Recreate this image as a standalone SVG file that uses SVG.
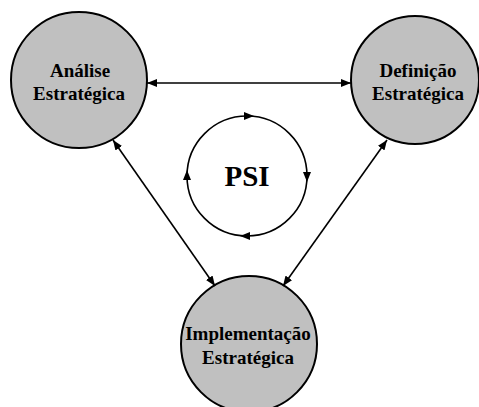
<svg xmlns="http://www.w3.org/2000/svg" width="479" height="407" viewBox="0 0 479 407">
<defs>
<marker id="ah" markerUnits="userSpaceOnUse" markerWidth="11" markerHeight="8" refX="10" refY="4" orient="auto-start-reverse" viewBox="0 0 11 8"><path d="M0,0 L10,4 L0,8 z" fill="#000"/></marker>
<style>
.node{fill:#c0c0c0;stroke:#000;stroke-width:2}
.lbl{font-weight:bold;font-size:19px;text-anchor:middle;fill:#000}
.con{stroke:#000;stroke-width:1.6;fill:none}
</style>
</defs>
<g font-family="Liberation Serif, serif">
<g id="analise">
<circle class="node" cx="79" cy="80" r="68"/>
<text class="lbl" x="80" y="77">Análise</text>
<text class="lbl" x="79" y="100">Estratégica</text>
</g>
<g id="definicao">
<circle class="node" cx="415" cy="80" r="64"/>
<text class="lbl" x="418" y="77">Definição</text>
<text class="lbl" x="418" y="100">Estratégica</text>
</g>
<g id="implementacao">
<circle class="node" cx="249" cy="344" r="68"/>
<text class="lbl" x="248" y="340">Implementação</text>
<text class="lbl" x="248" y="364">Estratégica</text>
</g>
<g id="psi">
<path class="con" d="M187,176 A60,60 0 0 1 247,116"/>
<path class="con" d="M247,116 A60,60 0 0 1 307,176"/>
<path class="con" d="M307,176 A60,60 0 0 1 247,236"/>
<path class="con" d="M247,236 A60,60 0 0 1 187,176"/>
<path d="M244,112 L254,116 L244,120 z" fill="#000"/>
<path d="M303,172 L307,182 L311,172 z" fill="#000"/>
<path d="M250,232 L240,236 L250,240 z" fill="#000"/>
<path d="M183,180 L187,170 L191,180 z" fill="#000"/>
<text x="247" y="186" font-weight="bold" font-size="29" text-anchor="middle">PSI</text>
</g>
</g>
<g id="connectors">
<line class="con" x1="147" y1="83" x2="351" y2="83" marker-start="url(#ah)" marker-end="url(#ah)"/>
<line class="con" x1="113" y1="140" x2="215" y2="286" marker-start="url(#ah)" marker-end="url(#ah)"/>
<line class="con" x1="387" y1="140" x2="283" y2="286" marker-start="url(#ah)" marker-end="url(#ah)"/>
</g>
</svg>
